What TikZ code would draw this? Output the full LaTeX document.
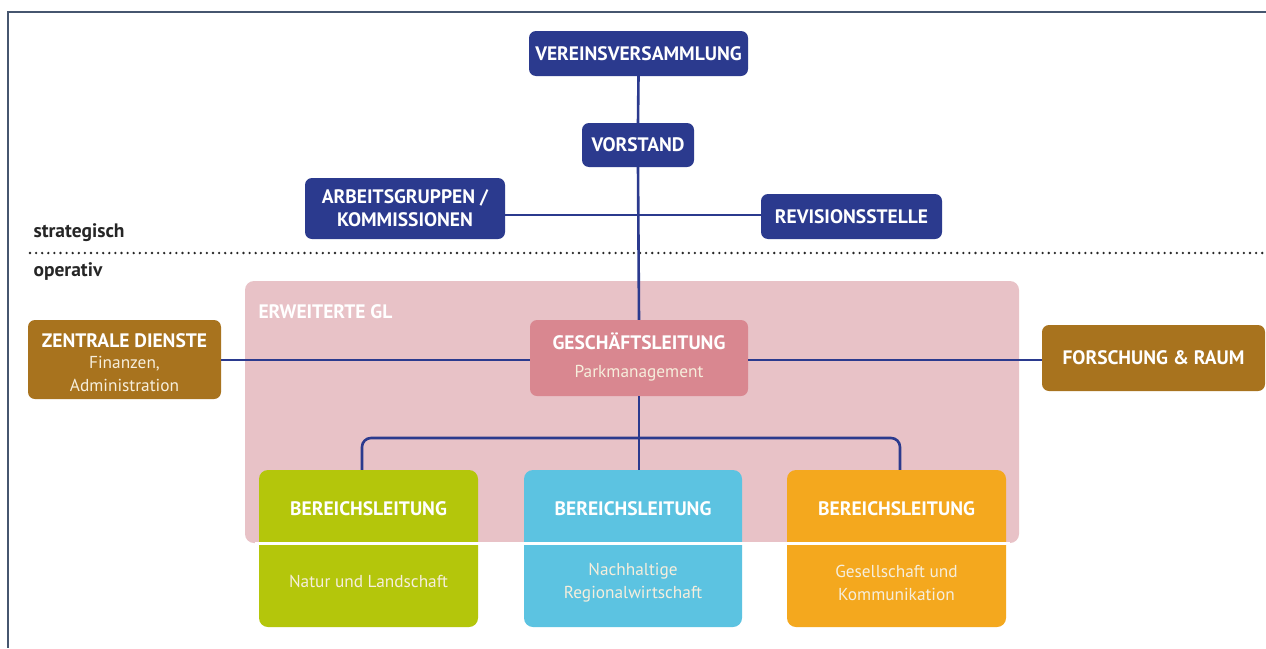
\documentclass[tikz,border=0pt]{standalone}
\usepackage{fontspec}
\setmainfont{PT Sans}
\definecolor{navy}{HTML}{2B3A8E}
\definecolor{frame}{HTML}{46566F}
\definecolor{gold}{HTML}{A8731E}
\definecolor{pinkbg}{HTML}{E8C2C7}
\definecolor{glred}{HTML}{D98790}
\definecolor{lime}{HTML}{B4C60B}
\definecolor{sky}{HTML}{5CC3E1}
\definecolor{amber}{HTML}{F4A81E}
\definecolor{subwhite}{HTML}{F6EEDC}
\tikzset{
  navybox/.style={fill=navy, rounded corners=7pt, text=white, font=\fontsize{19.5}{23}\selectfont\bfseries, align=center, inner sep=0pt},
  goldbox/.style={fill=gold, rounded corners=7pt, text=white, align=center, inner sep=0pt},
  conn/.style={draw=navy, line width=2.6pt},
  areabox/.style={rounded corners=9pt, inner sep=0pt},
  head/.style={font=\fontsize{19.5}{23}\selectfont\bfseries, text=white},
  sub/.style={font=\fontsize{17.3}{23}\selectfont, text=subwhite, align=center},
  lbl/.style={font=\fontsize{19.5}{23}\selectfont\bfseries, text=black!85, anchor=west}
}
\begin{document}
\begin{tikzpicture}[x=1pt,y=-1pt]
\useasboundingbox (0,0) rectangle (1266,648);
\fill[white] (0,0) rectangle (1266,648);
% frame
\draw[frame, line width=2.6pt] (1266,12) -- (8,12) -- (8,648);
% strategic / operative divider
\node[lbl] (strat) at (30,233) {strategisch};
\node[lbl] (oper) at (30,272) {operativ};
\draw[black!85, line width=2.6pt, line cap=round, dash pattern=on 0pt off 6.1pt] (30,253) -- (1264,253);
% pink area
\node[areabox, fill=pinkbg, minimum width=774pt, minimum height=262pt] (egl) at (632,412) {};
\node[font=\fontsize{19.5}{23}\selectfont\bfseries, text=white, anchor=west] (egltxt) at (255,312) {ERWEITERTE GL};
% top nodes
\node[navybox, minimum width=219pt, minimum height=45pt] (vv) at (638.5,53.5) {VEREINSVERSAMMLUNG};
\node[navybox, minimum width=112pt, minimum height=44pt] (vs) at (638,145) {VORSTAND};
\node[navybox, minimum width=200pt, minimum height=61pt] (ag) at (405,208.5) {ARBEITSGRUPPEN /\\KOMMISSIONEN};
\node[navybox, minimum width=181pt, minimum height=45pt] (rs) at (851.5,216.5) {REVISIONSSTELLE};
% GL
\node[fill=glred, rounded corners=7pt, minimum width=218pt, minimum height=76pt, inner sep=0pt] (gl) at (639,358) {};
\node[head] (glh) at (639,341) {GESCHÄFTSLEITUNG};
\node[sub] (gls) at (639,373) {Parkmanagement};
% side boxes
\node[goldbox, minimum width=193pt, minimum height=79pt] (zd) at (124.5,359.5) {};
\node[head] (zdh) at (124.5,341) {ZENTRALE DIENSTE};
\node[sub] (zds) at (124.5,374) {Finanzen,\\Administration};
\node[goldbox, minimum width=223pt, minimum height=66pt, font=\fontsize{19.5}{23}\selectfont\bfseries] (fr) at (1153.5,358) {FORSCHUNG \& RAUM};
% connectors top
\draw[conn] (vv.south) -- (vs.north);
\draw[conn] (vs.south) -- (gl.north);
\draw[conn] (ag.east |- 0,215) -- (rs.west |- 0,215);
\draw[conn] (zd.east |- 0,360) -- (gl.west |- 0,360);
\draw[conn] (gl.east |- 0,360) -- (fr.west |- 0,360);
% Bereich boxes
\node[areabox, fill=lime, minimum width=219pt, minimum height=157pt] (b1) at (368.5,548.5) {};
\node[areabox, fill=sky, minimum width=218pt, minimum height=157pt] (b2) at (633,548.5) {};
\node[areabox, fill=amber, minimum width=219pt, minimum height=157pt] (b3) at (896.5,548.5) {};
\draw[white, line width=2.4pt] (255,543.5) -- (1010,543.5);
\node[head] (b1h) at (368.5,509) {BEREICHSLEITUNG};
\node[head] (b2h) at (633,509) {BEREICHSLEITUNG};
\node[head] (b3h) at (896.5,509) {BEREICHSLEITUNG};
\node[sub] (b1s) at (368.5,581) {Natur und Landschaft};
\node[sub] (b2s) at (633,583) {Nachhaltige\\Regionalwirtschaft};
\node[sub] (b3s) at (896.5,583) {Gesellschaft und\\Kommunikation};
% bracket
\coordinate (l1) at (362,438);
\coordinate (l3) at (900,438);
\draw[conn] (gl.south) -- (b2.north -| gl.south);
\draw[conn, rounded corners=9pt] (b1.north -| l1) -- (l1) -- (l3) -- (b3.north -| l3);
\end{tikzpicture}
\end{document}
